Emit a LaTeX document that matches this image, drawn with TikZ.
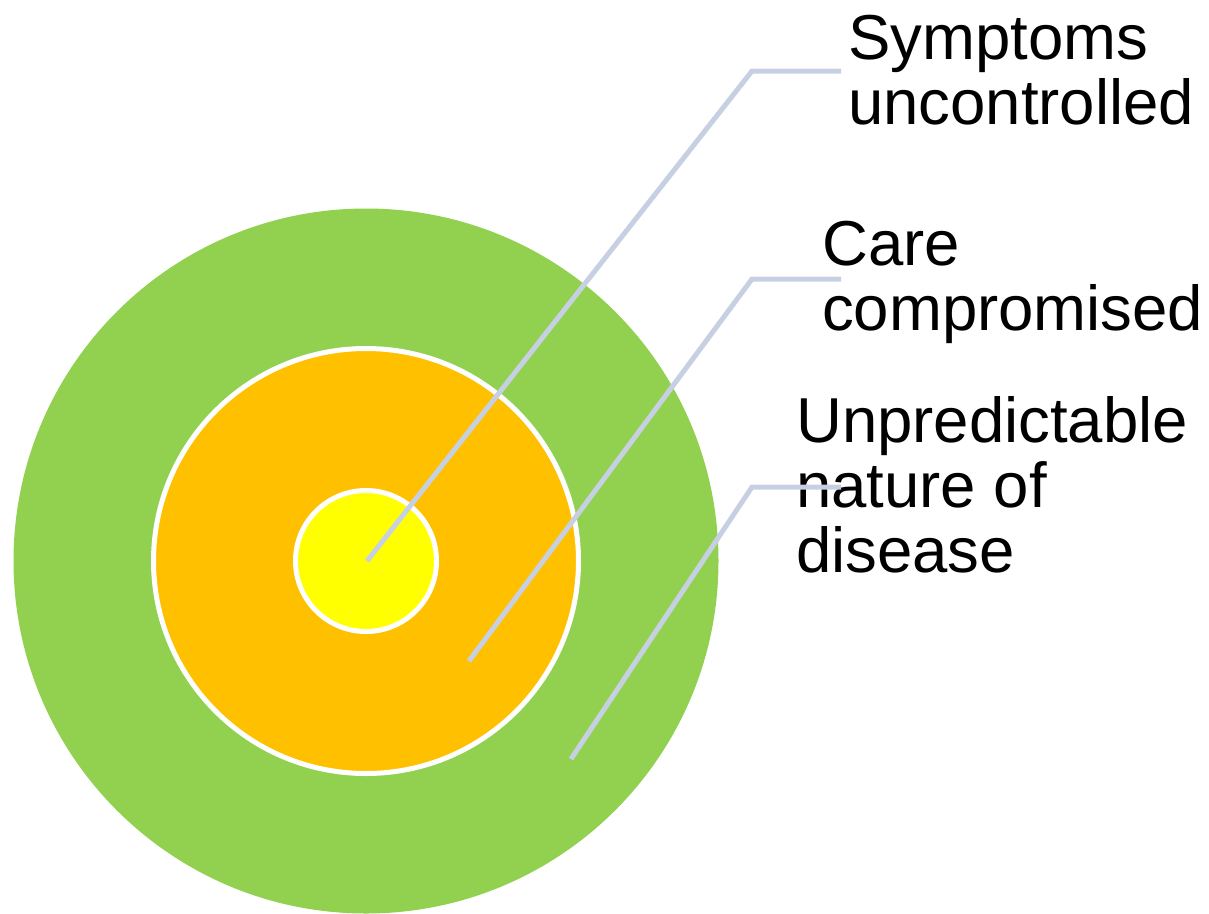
\documentclass[tikz,border=0pt]{standalone}
\usepackage{fontspec}
\setmainfont{Liberation Sans}
\usetikzlibrary{positioning}
\definecolor{ringgreen}{RGB}{146,208,80}
\definecolor{ringorange}{RGB}{255,192,0}
\definecolor{ringyellow}{RGB}{255,255,0}
\definecolor{leader}{RGB}{198,208,226}

\begin{document}
\begin{tikzpicture}[x=1pt,y=-1pt,
   ring/.style={draw=white,line width=5pt},
   leadline/.style={draw=leader,line width=5pt},
   lbl/.style={anchor=base west,inner sep=0pt,align=left,font=\fontsize{63.5}{65}\selectfont}
  ]
 \useasboundingbox (0,0) rectangle (1209,913);
 \clip (0,0) rectangle (1209,913);
 \coordinate (ctr) at (366,561);

 % rings
 \fill[ringgreen] (ctr) circle (352.5);
 \draw[ring,fill=ringorange] (ctr) circle (212.5);
 \draw[ring,fill=ringyellow] (ctr) circle (70.5);

 % labels (anchored on the baseline of their last line)
 \node[lbl] (symptoms) at (848,124) {Symptoms\\uncontrolled};
 \node[lbl] (care) at (822,330) {Care\\compromised};
 \node[lbl] (nature) at (796,572) {Unpredictable\\nature of\\disease};

 % leader lines
 \coordinate (s0) at (367,561);
 \coordinate (s1) at (752,71);
 \coordinate (s2) at (841,71);
 \coordinate (c0) at (469,661);
 \coordinate (c1) at (752,279);
 \coordinate (c2) at (841,279);
 \coordinate (n0) at (571,759);
 \coordinate (n1) at (752,487);
 \coordinate (n2) at (841,487);
 \draw[leadline] (s0) -- (s1) -- (s2);
 \draw[leadline] (c0) -- (c1) -- (c2);
 \draw[leadline] (n0) -- (n1) -- (n2);
\end{tikzpicture}
\end{document}
